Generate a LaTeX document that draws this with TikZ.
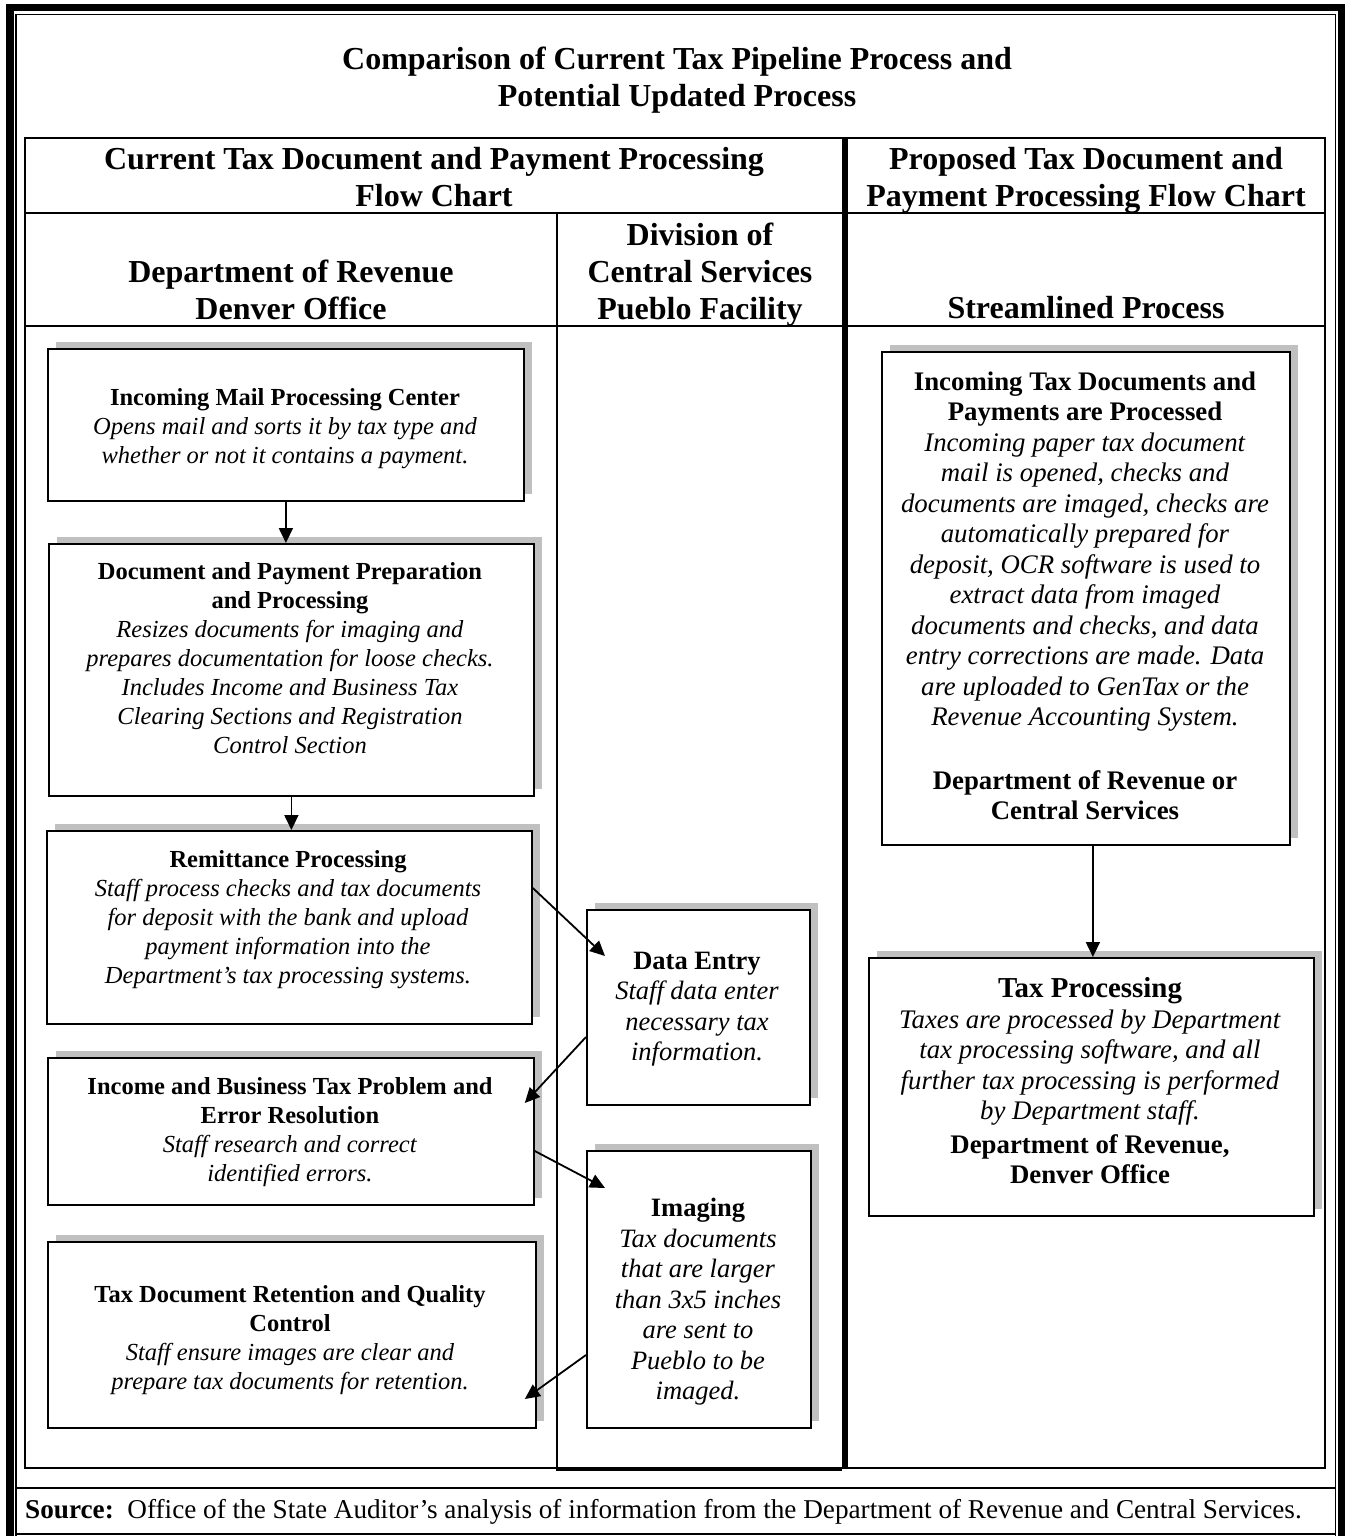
\documentclass[tikz,border=0pt]{standalone}
\usepackage{fontspec}
\setmainfont{Liberation Serif}
\usetikzlibrary{arrows.meta,calc,shadows}
\definecolor{shd}{RGB}{192,192,192}
\begin{document}
\begin{tikzpicture}[x=1pt,y=-1pt,
  box/.style={draw=black, line width=1.8pt, fill=white, inner sep=0pt, anchor=north west,
    drop shadow={shadow xshift=8pt, shadow yshift=7pt, opacity=1, fill=shd, draw=none}},
  lt/.style={font=\fontsize{24.5}{29}\selectfont, align=center, inner sep=0pt},
  mt/.style={font=\fontsize{26.5}{30.5}\selectfont, align=center, inner sep=0pt},
  rt/.style={font=\fontsize{26.8}{30.5}\selectfont, align=center, inner sep=0pt},
  hd/.style={font=\fontsize{32}{37}\selectfont\bfseries, align=center, inner sep=0pt},
  ft/.style={font=\fontsize{27.2}{29}\selectfont, inner sep=0pt},
  tl/.style={line width=2pt},
  arr/.style={line width=1.8pt, -{Triangle[length=15pt,width=14pt]}}
]
\useasboundingbox (0,0) rectangle (1345,1536);
% outer frame
\draw[line width=7.5pt] (10,1536) -- (10,7.75) -- (1341.5,7.75) -- (1341.5,1536);
\draw[line width=1.5pt] (15.8,1536) -- (15.8,14.6) -- (1335.6,14.6) -- (1335.6,1536);
% title
\node[hd] (title) at (677,80.5) {Comparison of Current Tax Pipeline Process and\\Potential Updated Process};
% table
\draw[tl] (25,137) -- (25,1468) -- (1325,1468) -- (1325,137);
\draw[tl] (25,138) -- (1325,138);
\draw[tl] (25,213) -- (1325,213);
\draw[tl] (25,326) -- (1325,326);
\draw[tl] (557,213) -- (557,1470) -- (842,1470);
\draw[line width=6.5pt] (845.2,137) -- (845.2,1468);
% headers
\node[hd] (hcur) at (434,177) {Current Tax Document and Payment Processing\\Flow Chart};
\node[hd] (hprop) at (1086,180) {Proposed Tax Document and\\Payment Processing Flow Chart};
\node[hd] (hden) at (291,290) {Department of Revenue\\Denver Office};
\node[hd] (hpue) at (700,274.5) {Division of\\Central Services\\Pueblo Facility};
\node[hd] (hstr) at (1086,308) {Streamlined Process};
% left column boxes
\node[box, minimum width=476pt, minimum height=152pt] (b1) at (47,348) {};
\node[lt] (b1t) at (285,429) {\textbf{Incoming Mail Processing Center}\\\textit{Opens mail and sorts it by tax type and}\\\textit{whether or not it contains a payment.}};
\node[box, minimum width=485pt, minimum height=252pt] (b2) at (48,543) {};
\node[lt] (b2t) at (290,658) {\textbf{Document and Payment Preparation}\\\textbf{and Processing}\\\textit{Resizes documents for imaging and}\\\textit{prepares documentation for loose checks.}\\\textit{Includes Income and Business Tax}\\\textit{Clearing Sections and Registration}\\\textit{Control Section}};
\node[box, minimum width=485pt, minimum height=193pt] (b3) at (46,830) {};
\node[lt] (b3t) at (288,920) {\textbf{Remittance Processing}\\\textit{Staff process checks and tax documents}\\\textit{for deposit with the bank and upload}\\\textit{payment information into the}\\\textit{Department’s tax processing systems.}};
\node[box, minimum width=486pt, minimum height=147pt] (b4) at (47,1057) {};
\node[lt] (b4t) at (290,1132) {\textbf{Income and Business Tax Problem and}\\\textbf{Error Resolution}\\\textit{Staff research and correct}\\\textit{identified errors.}};
\node[box, minimum width=488pt, minimum height=186pt] (b5) at (47,1241) {};
\node[lt] (b5t) at (290,1340) {\textbf{Tax Document Retention and Quality}\\\textbf{Control}\\\textit{Staff ensure images are clear and}\\\textit{prepare tax documents for retention.}};
% middle column boxes
\node[box, minimum width=223pt, minimum height=195pt] (de) at (586,909) {};
\node[mt] (det) at (697,1009) {\textbf{Data Entry}\\\textit{Staff data enter}\\\textit{necessary tax}\\\textit{information.}};
\node[box, minimum width=224pt, minimum height=277pt] (im) at (586,1150) {};
\node[mt] (imt) at (698,1302) {\textbf{Imaging}\\\textit{Tax documents}\\\textit{that are larger}\\\textit{than 3x5 inches}\\\textit{are sent to}\\\textit{Pueblo to be}\\\textit{imaged.}};
% right column boxes
\node[box, minimum width=408pt, minimum height=493pt] (r1) at (881,351) {};
\node[rt] (r1t) at (1085,596) {\textbf{Incoming Tax Documents and}\\\textbf{Payments are Processed}\\\textit{Incoming paper tax document}\\\textit{mail is opened, checks and}\\\textit{documents are imaged, checks are}\\\textit{automatically prepared for}\\\textit{deposit, OCR software is used to}\\\textit{extract data from imaged}\\\textit{documents and checks, and data}\\\textit{entry corrections are made. Data}\\\textit{are uploaded to GenTax or the}\\\textit{Revenue Accounting System.}\\[33pt]\textbf{Department of Revenue or}\\\textbf{Central Services}};
\node[box, minimum width=445pt, minimum height=258pt] (r2) at (868,957) {};
\node[rt] (r2t) at (1090,1081) {{\fontsize{28.9}{31}\selectfont\textbf{Tax Processing}}\\\textit{Taxes are processed by Department}\\\textit{tax processing software, and all}\\\textit{further tax processing is performed}\\\textit{by Department staff.}\\[3pt]\textbf{Department of Revenue,}\\\textbf{Denver Office}};
% arrows
\draw[arr] (b1.south) -- (b1.south |- b2.north);
\draw[arr] (b2.south) -- (b2.south |- b3.north);
\draw[arr] ([yshift=-58pt]b3.north east) -- ([xshift=19pt,yshift=-47pt]de.north west);
\draw[arr] ([yshift=-128pt]de.north west) -- ([xshift=-10pt,yshift=-46pt]b4.north east);
\draw[arr] ([yshift=-94pt]b4.north east) -- ([xshift=19pt,yshift=-38pt]im.north west);
\draw[arr] ([yshift=-205pt]im.north west) -- ([xshift=-12pt,yshift=-158pt]b5.north east);
\draw[arr] ([xshift=7pt]r1.south) -- ([xshift=7pt]r1.south |- r2.north);
% footer
\draw[tl] (16,1488) -- (1336,1488);
\draw[tl] (16,1534) -- (1336,1534);
\node[ft, anchor=west] (src) at (25,1512) {\textbf{Source:}\hspace{0.5em}Office of the State Auditor’s analysis of information from the Department of Revenue and Central Services.};
\end{tikzpicture}
\end{document}
